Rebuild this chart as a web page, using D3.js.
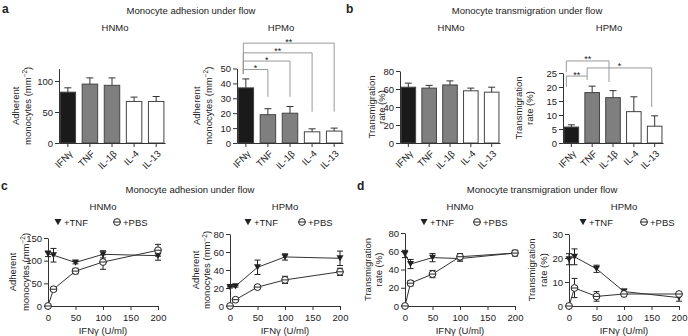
<!DOCTYPE html>
<html>
<head>
<meta charset="utf-8">
<script src="https://cdn.jsdelivr.net/npm/d3@7"></script>
<style>
  body { margin: 0; background: #fff; }
  svg { font-family: "Liberation Sans", Arial, sans-serif; }
</style>
</head>
<body>
<svg id="fig" width="688" height="336"></svg>
<script>
// ---- data ----
const cytokines = ["IFNγ", "TNF", "IL-1β", "IL-4", "IL-13"];
const barFill = ["#1a1a1a", "#7f7f7f", "#7f7f7f", "#ffffff", "#ffffff"];

const adhesionHNMo = [82, 95, 93, 67, 67];
const adhesionHNMoErr = [7, 10, 12, 7, 8];
const adhesionHPMo = [37, 19, 20, 7.5, 8];
const adhesionHPMoErr = [6, 4, 4.5, 2, 2];
const transHNMo = [62, 61, 64.5, 58, 56.5];
const transHNMoErr = [4.5, 3, 4.5, 3, 5.5];
const transHPMo = [5.7, 18, 16.2, 11.2, 6];
const transHPMoErr = [0.8, 2.3, 2.5, 5.3, 3.7];

// significance brackets: y levels in data units
const adhesionHPMoSig = [
  {from: 0, to: 1, y: 49.3, y0: 46.6, y1: 31, label: "*"},
  {from: 0, to: 2, y: 55, y0: 46.6, y1: 31, label: "*"},
  {from: 0, to: 3, y: 60.5, y0: 46.6, y1: 21, label: "**"},
  {from: 0, to: 4, y: 67, y0: 46.6, y1: 21, label: "**"}
];
const transHPMoSig = [
  {from: 0, to: 1, y: 23.9, y0: 20, y1: 22.5, label: "**"},
  {from: 0, to: 2, y: 29.3, y0: 25.4, y1: 21.8, label: "**"},
  {from: 1, to: 4, y: 26.8, y0: 23.9, y1: 12.9, label: "*"}
];

const doses = [0, 10, 50, 100, 200];
const doseTicks = [0, 50, 100, 150, 200];

const adhHNMoTNF = [115, 112, 96, 114, 111];
const adhHNMoTNFErr = [6, 15, 3, 8, 10];
const adhHNMoPBS = [0, 37, 77, 97, 123];
const adhHNMoPBSErr = [0, 4, 6, 16, 13];

const adhHPMoTNF = [21, 22, 43, 54.5, 53];
const adhHPMoTNFErr = [1, 1, 8, 3.5, 8];
const adhHPMoPBS = [0, 7, 21, 29, 38];
const adhHPMoPBSErr = [0, 1, 1.5, 4, 4];

const trHNMoTNF = [57, 46, 53, 52, 58];
const trHNMoTNFErr = [4, 5, 4.5, 3, 3];
const trHNMoPBS = [0, 25, 35, 54, 58];
const trHNMoPBSErr = [0, 3, 4, 3.5, 3];

const trHPMoTNF = [19.5, 20.5, 15.5, 6, 3.5];
const trHPMoTNFErr = [2.3, 3.3, 1.5, 1, 1.5];
const trHPMoPBS = [0, 7.5, 4, 5, 5];
const trHPMoPBSErr = [0, 4, 2, 1, 0.5];

// ---- drawing ----
const svg = d3.select("#fig");
const ink = "#222";
const FS = 9.5;

function label(txt, x, y, opts) {
  opts = opts || {};
  return svg.append("text")
    .attr("x", x).attr("y", y)
    .attr("text-anchor", opts.anchor || "middle")
    .attr("font-size", opts.size || FS)
    .attr("font-weight", opts.weight || null)
    .attr("fill", ink)
    .text(txt);
}

// rotated two-line y label; line 2 can carry a superscript
function yLabel(lines, xs, cy) {
  lines.forEach((ln, i) => {
    let t = svg.append("text")
      .attr("transform", `translate(${xs[i]},${cy}) rotate(-90)`)
      .attr("text-anchor", "middle")
      .attr("font-size", FS)
      .attr("fill", ink);
    if (typeof ln === "string") {
      t.text(ln);
    } else {
      t.append("tspan").text(ln.text);
      t.append("tspan").attr("dy", -3.5).attr("font-size", 6.5).text(ln.sup);
      t.append("tspan").attr("dy", 3.5).text(ln.tail);
    }
  });
}

function styleAxis(g) {
  g.attr("font-family", null).attr("font-size", FS).attr("color", "#333");
  g.selectAll("text").attr("fill", ink);
}

function barPanel(cfg) {
  const base = 143;
  let g = svg.append("g");
  let x = d3.scaleBand().domain(cytokines)
    .range([cfg.x0, cfg.x0 + cfg.width])
    .paddingInner(0.3).paddingOuter(0.05);
  let y = d3.scaleLinear().domain([0, cfg.max]).range([base, cfg.top]);
  let bw = x.bandwidth();

  // bars
  g.selectAll("rect").data(cfg.values).enter().append("rect")
    .attr("x", (d, i) => x(cytokines[i]))
    .attr("y", d => y(d))
    .attr("width", bw)
    .attr("height", d => base - y(d))
    .attr("fill", (d, i) => barFill[i])
    .attr("stroke", "#444")
    .attr("stroke-width", 1);

  // upward error bars
  cfg.values.forEach((v, i) => {
    let cx = x(cytokines[i]) + bw / 2;
    let top = y(v + cfg.errs[i]);
    g.append("line").attr("x1", cx).attr("x2", cx).attr("y1", y(v)).attr("y2", top)
      .attr("stroke", "#333");
    g.append("line").attr("x1", cx - 3.5).attr("x2", cx + 3.5).attr("y1", top).attr("y2", top)
      .attr("stroke", "#333");
  });

  // axes
  let ya = g.append("g").attr("transform", `translate(${cfg.x0},0)`)
    .call(d3.axisLeft(y).tickValues(cfg.ticks).tickSize(4).tickSizeOuter(0).tickPadding(2));
  styleAxis(ya);
  let xa = g.append("g").attr("transform", `translate(0,${base})`)
    .call(d3.axisBottom(x).tickSize(4).tickSizeOuter(0));
  styleAxis(xa);
  xa.selectAll("text")
    .attr("x", 0).attr("y", 0).attr("dy", "0.35em")
    .attr("transform", "translate(3,9) rotate(-45)")
    .style("text-anchor", "end");

  // significance brackets
  (cfg.sig || []).forEach(b => {
    let xl = x(cytokines[b.from]) + bw / 2 + cfg.legDx[b.from];
    let xr = x(cytokines[b.to]) + bw / 2 + cfg.legDx[b.to];
    g.append("path")
      .attr("d", `M${xl},${y(b.y0)}V${y(b.y)}H${xr}V${y(b.y1)}`)
      .attr("fill", "none").attr("stroke", "#999").attr("stroke-width", 1);
    g.append("text").attr("x", (xl + xr) / 2).attr("y", y(b.y) + 1.5)
      .attr("text-anchor", "middle").attr("font-size", 9).attr("fill", ink)
      .text(b.label);
  });

  label(cfg.title, cfg.titleX, 31);
  yLabel(cfg.ylab, cfg.ylabX, (base + cfg.top) / 2);
}

const triPath = "M-3.5,-3L3.5,-3L0,3.2Z";

function drawTri(g, cx, cy) {
  g.append("path").attr("d", triPath)
    .attr("transform", `translate(${cx},${cy})`)
    .attr("fill", "#222");
}
function drawCirc(g, cx, cy) {
  g.append("circle").attr("cx", cx).attr("cy", cy).attr("r", 3.4)
    .attr("fill", "#fff").attr("stroke", "#222").attr("stroke-width", 1);
  g.append("line").attr("x1", cx - 3.4).attr("x2", cx + 3.4).attr("y1", cy).attr("y2", cy)
    .attr("stroke", "#222").attr("stroke-width", 1);
}

function linePanel(cfg) {
  const base = 306;
  let g = svg.append("g");
  let x = d3.scaleLinear().domain([0, 200]).range([cfg.x0, cfg.x0 + 110]);
  let y = d3.scaleLinear().domain([0, cfg.max]).range([base, cfg.top]);

  let ya = g.append("g").attr("transform", `translate(${cfg.x0},0)`)
    .call(d3.axisLeft(y).tickValues(cfg.ticks).tickSize(4).tickSizeOuter(0).tickPadding(2));
  styleAxis(ya);
  let xa = g.append("g").attr("transform", `translate(0,${base})`)
    .call(d3.axisBottom(x).tickValues(doseTicks).tickSize(4).tickSizeOuter(0).tickPadding(4));
  styleAxis(xa);

  let line = d3.line().x((d, i) => x(doses[i])).y(d => y(d));
  let series = [
    {vals: cfg.tnf, errs: cfg.tnfErr, mark: drawTri},
    {vals: cfg.pbs, errs: cfg.pbsErr, mark: drawCirc}
  ];
  series.forEach(s => {
    g.append("path").attr("d", line(s.vals))
      .attr("fill", "none").attr("stroke", "#333").attr("stroke-width", 1);
  });
  series.forEach(s => {
    s.vals.forEach((v, i) => {
      if (!s.errs[i]) return;
      let cx = x(doses[i]);
      let lo = y(v - s.errs[i]), hi = y(v + s.errs[i]);
      g.append("line").attr("x1", cx).attr("x2", cx).attr("y1", lo).attr("y2", hi).attr("stroke", "#222");
      [lo, hi].forEach(yy => g.append("line").attr("x1", cx - 3).attr("x2", cx + 3)
        .attr("y1", yy).attr("y2", yy).attr("stroke", "#222"));
    });
  });
  series.forEach(s => {
    s.vals.forEach((v, i) => s.mark(g, x(doses[i]), y(v)));
  });

  // legend
  drawTri(g, cfg.x0 + cfg.leg[0], 222);
  label("+TNF", cfg.x0 + cfg.leg[0] + 6, 225.5, {anchor: "start"});
  drawCirc(g, cfg.x0 + cfg.leg[1], 222);
  label("+PBS", cfg.x0 + cfg.leg[1] + 6, 225.5, {anchor: "start"});

  label(cfg.title, cfg.x0 + 55, 210);
  label("IFNγ (U/ml)", cfg.x0 + 55, 334);
  yLabel(cfg.ylab, cfg.ylabX, (base + cfg.top) / 2);
}

const adhLab = ["Adherent", {text: "monocytes (mm", sup: "−2", tail: ")"}];
const trLab = ["Transmigration", "rate (%)"];

// panel letters & headings
label("a", 2, 13, {anchor: "start", size: 12, weight: "bold"});
label("b", 346, 13, {anchor: "start", size: 12, weight: "bold"});
label("c", 1, 190, {anchor: "start", size: 12, weight: "bold"});
label("d", 357, 190, {anchor: "start", size: 12, weight: "bold"});
label("Monocyte adhesion under flow", 191, 14);
label("Monocyte transmigration under flow", 527, 14);
label("Monocyte adhesion under flow", 190, 193);
label("Monocyte transmigration under flow", 542, 193);

barPanel({x0: 59, width: 106, max: 120, top: 68.6, ticks: [0, 50, 100],
  values: adhesionHNMo, errs: adhesionHNMoErr, title: "HNMo", titleX: 115,
  ylab: adhLab, ylabX: [18.5, 30.5]});
barPanel({x0: 237, width: 106, max: 50, top: 68.5, ticks: [0, 10, 20, 30, 40, 50],
  values: adhesionHPMo, errs: adhesionHPMoErr, title: "HPMo", titleX: 281,
  ylab: adhLab, ylabX: [199.5, 211.5],
  sig: adhesionHPMoSig, legDx: [-2.5, 0, 0, 0, 0]});
barPanel({x0: 400, width: 100, max: 80, top: 71, ticks: [0, 20, 40, 60, 80],
  values: transHNMo, errs: transHNMoErr, title: "HNMo", titleX: 451,
  ylab: trLab, ylabX: [374.5, 385]});
barPanel({x0: 563, width: 100, max: 25, top: 73, ticks: [0, 5, 10, 15, 20, 25],
  values: transHPMo, errs: transHPMoErr, title: "HPMo", titleX: 609,
  ylab: trLab, ylabX: [521.5, 533],
  sig: transHPMoSig, legDx: [-5, -5, -4, -3, -3]});

linePanel({x0: 48, max: 150, top: 238, ticks: [0, 50, 100, 150],
  tnf: adhHNMoTNF, tnfErr: adhHNMoTNFErr, pbs: adhHNMoPBS, pbsErr: adhHNMoPBSErr,
  title: "HNMo", ylab: adhLab, ylabX: [15.5, 28.5], leg: [10, 69]});
linePanel({x0: 230, max: 80, top: 234, ticks: [0, 20, 40, 60, 80],
  tnf: adhHPMoTNF, tnfErr: adhHPMoTNFErr, pbs: adhHPMoPBS, pbsErr: adhHPMoPBSErr,
  title: "HPMo", ylab: adhLab, ylabX: [199, 210], leg: [18, 72]});
linePanel({x0: 405, max: 80, top: 233, ticks: [0, 20, 40, 60, 80],
  tnf: trHNMoTNF, tnfErr: trHNMoTNFErr, pbs: trHNMoPBS, pbsErr: trHNMoPBSErr,
  title: "HNMo", ylab: trLab, ylabX: [371, 381.5], leg: [19, 72]});
linePanel({x0: 569, max: 30, top: 234, ticks: [0, 10, 20, 30],
  tnf: trHPMoTNF, tnfErr: trHPMoTNFErr, pbs: trHPMoPBS, pbsErr: trHPMoPBSErr,
  title: "HPMo", ylab: trLab, ylabX: [535, 546.5], leg: [14, 75]});
</script>
</body>
</html>
